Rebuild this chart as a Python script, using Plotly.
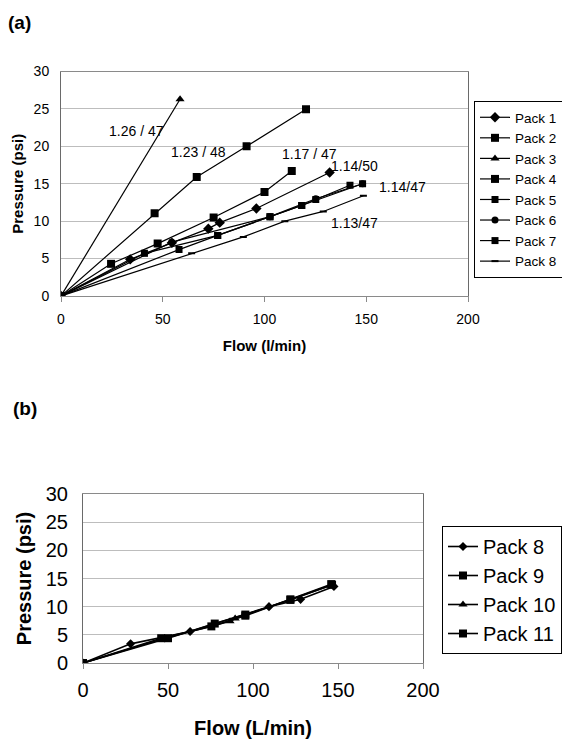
import plotly.graph_objects as go

FONT = "Arial, Liberation Sans, sans-serif"

# ---------- Panel (a) data ----------
pack1_x = [0, 34, 54.5, 72.4, 78, 96, 132]
pack1_y = [0, 4.9, 7.1, 9.0, 9.8, 11.7, 16.5]
pack2_x = [0, 46, 66.7, 91.2, 120.4]
pack2_y = [0, 11.05, 15.9, 20.0, 24.95]
pack3_x = [0, 58.5]
pack3_y = [0, 26.3]
pack4_x = [0, 24.6, 47.5, 75, 100, 113.4]
pack4_y = [0, 4.3, 7.0, 10.5, 13.9, 16.7]
pack5_x = [0, 41, 77, 102.7, 118.3, 125.2, 142]
pack5_y = [0, 5.7, 8.1, 10.6, 12.1, 12.9, 14.8]
pack6_x = [0, 54.4, 102.7, 125.2, 148.2]
pack6_y = [0, 7.2, 10.6, 13.0, 15.0]
pack7_x = [0, 58, 77, 102.7, 118.3, 148.2]
pack7_y = [0, 6.2, 8.1, 10.6, 12.1, 15.0]
pack8_x = [0, 64.2, 89.6, 110, 128.9, 148.6]
pack8_y = [0, 5.7, 7.9, 10.0, 11.3, 13.4]

labels_a = ["1.26 / 47", "1.23 / 48", "1.17 / 47", "1.14/50", "1.14/47", "1.13/47"]
labels_a_x = [37.2, 67.5, 122, 144, 168, 144]
labels_a_y = [22.1, 19.3, 19.0, 17.4, 14.6, 9.7]

# ---------- Panel (b) data ----------
b8_x = [0, 28, 63, 109.4, 128, 147.6]
b8_y = [0, 3.4, 5.6, 10.0, 11.3, 13.6]
b9_x = [0, 46, 75.5, 95.5, 122, 146]
b9_y = [0, 4.4, 6.5, 8.4, 11.3, 14.0]
b10_x = [0, 47, 86.5, 89.5, 146]
b10_y = [0, 4.3, 7.4, 7.9, 13.8]
b11_x = [0, 50, 77.5, 95.5, 122, 146.5]
b11_y = [0, 4.4, 7.0, 8.6, 11.2, 13.9]

ticks_x = [0, 50, 100, 150, 200]
ticks_y = [0, 5, 10, 15, 20, 25, 30]

W, H, OFF = 570, 742, 8  # page body margin offset


def px(v):
    return (v - OFF) / W


def py(v):
    return 1 - (v - OFF) / H


fig = go.Figure()

series_a = [
    ("Pack 1", pack1_x, pack1_y, "diamond", 8),
    ("Pack 2", pack2_x, pack2_y, "square", 8),
    ("Pack 3", pack3_x, pack3_y, "triangle-up", 8),
    ("Pack 4", pack4_x, pack4_y, "square", 8),
    ("Pack 5", pack5_x, pack5_y, "square", 7),
    ("Pack 6", pack6_x, pack6_y, "circle", 7),
    ("Pack 7", pack7_x, pack7_y, "square", 7),
    ("Pack 8", pack8_x, pack8_y, "line-ew", 5),
]
for name, xs, ys, sym, sz in series_a:
    mk = dict(symbol=sym, size=sz, color="black")
    if sym == "line-ew":
        mk["line"] = dict(color="black", width=2)
    fig.add_trace(go.Scatter(x=xs, y=ys, name=name, mode="lines+markers",
                             line=dict(color="black", width=1.2), marker=mk,
                             xaxis="x", yaxis="y", legend="legend"))

series_b = [
    ("Pack 8", b8_x, b8_y, "diamond", 7),
    ("Pack 9", b9_x, b9_y, "square", 8),
    ("Pack 10", b10_x, b10_y, "triangle-up", 8),
    ("Pack 11", b11_x, b11_y, "square", 8),
]
for name, xs, ys, sym, sz in series_b:
    fig.add_trace(go.Scatter(x=xs, y=ys, name=name, mode="lines+markers",
                             line=dict(color="black", width=1.6),
                             marker=dict(symbol=sym, size=sz, color="black"),
                             xaxis="x2", yaxis="y2", legend="legend2"))

for t, lx, ly in zip(labels_a, labels_a_x, labels_a_y):
    fig.add_annotation(x=lx, y=ly, xref="x", yref="y", text=t, showarrow=False,
                       font=dict(family=FONT, size=14, color="black"))

for t, lx, ly in [("(a)", 6, 23), ("(b)", 11, 408.5)]:
    fig.add_annotation(x=px(lx), y=py(ly), xref="paper", yref="paper",
                       text="<b>" + t + "</b>", showarrow=False,
                       font=dict(family=FONT, size=19, color="black"),
                       xanchor="left", yanchor="middle")

xaxis_common = dict(showgrid=False, zeroline=False, showline=True, linecolor="#8a8a8a",
                    linewidth=1, mirror=True, ticks="outside", ticklen=5, tickcolor="#8a8a8a",
                    color="black", automargin=False, range=[0, 200], tickvals=ticks_x)
yaxis_common = dict(showgrid=True, gridcolor="#bdbdbd", gridwidth=1, zeroline=False,
                    showline=True, linecolor="#6a6a6a", mirror=True, ticks="", color="black",
                    automargin=False, range=[0, 30], tickvals=ticks_y)

fig.update_layout(
    width=W, height=H,
    margin=dict(l=0, r=0, t=0, b=0, autoexpand=False),
    paper_bgcolor="white", plot_bgcolor="white",
    font=dict(family=FONT, color="black"),
    xaxis=dict(**xaxis_common, domain=[px(61), px(468)], tickfont=dict(size=14), anchor="y",
               ticklabelstandoff=5,
               title=dict(text="<b>Flow (l/min)</b>", font=dict(size=15), standoff=14)),
    yaxis=dict(**yaxis_common, domain=[py(296), py(71.5)], tickfont=dict(size=14),
               anchor="x", ticklabelstandoff=8,
               title=dict(text="<b>Pressure (psi)</b>", font=dict(size=15), standoff=6)),
    xaxis2=dict(**xaxis_common, domain=[px(83), px(423)], tickfont=dict(size=20), anchor="y2",
                ticklabelstandoff=4,
                title=dict(text="<b>Flow (L/min)</b>", font=dict(size=20), standoff=20)),
    yaxis2=dict(**yaxis_common, domain=[py(663), py(494)], tickfont=dict(size=20),
                anchor="x2", ticklabelstandoff=10,
                title=dict(text="<b>Pressure (psi)</b>", font=dict(size=20), standoff=8)),
    legend=dict(x=px(474), y=py(101), xanchor="left", yanchor="top",
                bordercolor="black", borderwidth=1, bgcolor="white",
                font=dict(size=13.5, family=FONT), itemwidth=30, tracegroupgap=0),
    legend2=dict(x=px(442), y=py(526), xanchor="left", yanchor="top",
                 bordercolor="black", borderwidth=1, bgcolor="white",
                 font=dict(size=20, family=FONT), itemwidth=30, tracegroupgap=0),
    showlegend=True,
)

fig.write_html("out.html")
